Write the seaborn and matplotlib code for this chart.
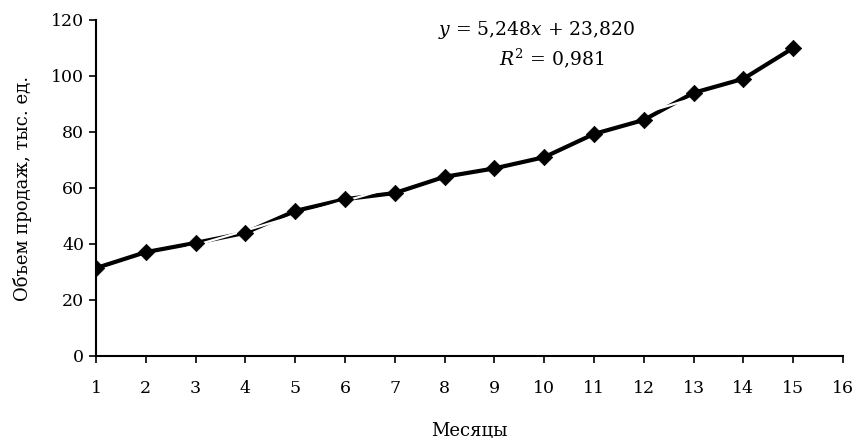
import numpy as np
import pandas as pd
import matplotlib
matplotlib.use("Agg")
import matplotlib.pyplot as plt
import seaborn as sns

months = list(range(1, 16))
sales = [31.4, 37.1, 40.4, 44.0, 51.8, 56.0, 58.2, 64.0, 67.0, 71.0, 79.3, 84.3, 94.0, 99.0, 110.0]
x_ticks = list(range(1, 17))
y_ticks = [0, 20, 40, 60, 80, 100, 120]
slope, intercept = 5.248, 23.820
eq_text = r"$y$ = 5,248$x$ + 23,820"
r2_text = r"$R^2$ = 0,981"
xlabel = "Месяцы"
ylabel = "Объем продаж, тыс. ед."

sns.set_theme(style="ticks")
plt.rcParams['font.family'] = ['DejaVu Serif']
plt.rcParams['mathtext.fontset'] = 'dejavuserif'
plt.rcParams['text.color'] = 'black'
plt.rcParams['axes.labelcolor'] = 'black'
plt.rcParams['xtick.color'] = 'black'
plt.rcParams['ytick.color'] = 'black'

df = pd.DataFrame({"month": months, "sales": sales})
trend = pd.DataFrame({"month": months, "fit": [slope * m + intercept for m in months]})

fig = plt.figure(figsize=(8.58, 4.38), dpi=100)
ax = fig.add_axes([96/858, 1 - 356/438, (843-96)/858, (356-20)/438])

# data line
sns.lineplot(data=df, x="month", y="sales", ax=ax, color="black", linewidth=3, zorder=2)
# white linear trend line on top of the data line
sns.lineplot(data=trend, x="month", y="fit", ax=ax, color="white", linewidth=1.6, zorder=3)
# markers above everything
sns.scatterplot(data=df, x="month", y="sales", ax=ax, color="black", marker="D", s=70,
                edgecolor="black", linewidth=0.5, zorder=4)

ax.set_xlim(1, 16)
ax.set_ylim(0, 120)
ax.set_xticks(x_ticks)
ax.set_yticks(y_ticks)
ax.tick_params(axis='both', labelsize=12.5, length=5, width=1.2, colors='black', direction='out')
ax.tick_params(axis='x', pad=12)
for s in ["top", "right"]:
    ax.spines[s].set_visible(False)
for s in ["left", "bottom"]:
    ax.spines[s].set_linewidth(1.5)
    ax.spines[s].set_color("black")

ax.set_xlabel(xlabel, fontsize=13, labelpad=18)
ax.set_ylabel(ylabel, fontsize=13, labelpad=14)

fig.text(537/858, 1 - 30/438, eq_text, ha="center", va="center", fontsize=13.5)
fig.text(552/858, 1 - 58/438, r2_text, ha="center", va="center", fontsize=13.5)

fig.savefig("out.png", dpi=100)
